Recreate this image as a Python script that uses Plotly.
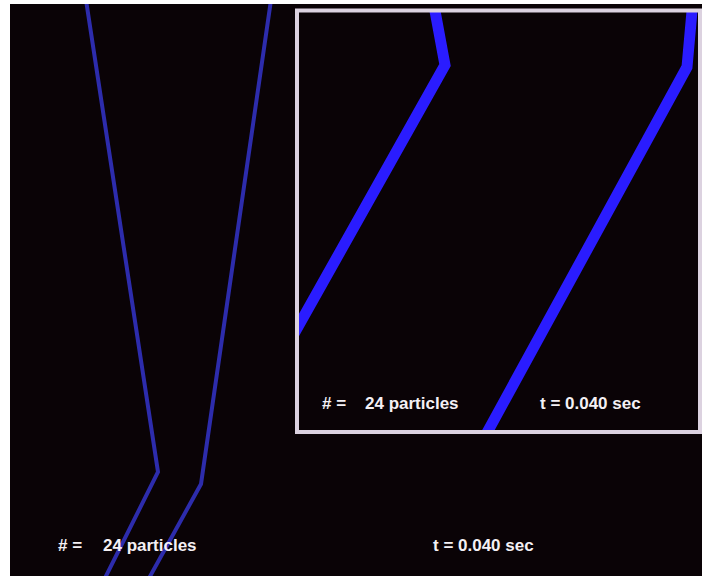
import plotly.graph_objects as go

# ---- data (positions in frame pixel units: x across, y down) ----
particle_count = 24
time_sec = 0.040

# main view: two thin trajectories
main_left_x = [86, 158, 104]
main_left_y = [0, 472, 580]
main_right_x = [271, 201, 148]
main_right_y = [0, 484, 580]

# inset (zoomed) view: two thick trajectories
inset_left_x = [433, 445, 290]
inset_left_y = [0, 65, 341]
inset_right_x = [693, 687, 483]
inset_right_y = [0, 67, 440]

# text labels
count_prefix = "# ="
count_label = f"{particle_count} particles"
time_label = f"t = {time_sec:.3f} sec"

# ---- figure ----
W, H = 702, 577
L, T, R, B = 10, 4, 0, 1
pw, ph = W - L - R, H - T - B

def px_to_dom_x(px):
    return (px - L) / pw

def px_to_dom_y(py):
    return 1 - (py - T) / ph

box_x0, box_x1, box_y0, box_y1 = 297, 700, 10.5, 432

fig = go.Figure()
main_color = "#2d2cac"
inset_color = "#2a1cff"

fig.add_trace(go.Scatter(x=main_left_x, y=main_left_y, mode="lines",
                         line=dict(color=main_color, width=4), xaxis="x", yaxis="y"))
fig.add_trace(go.Scatter(x=main_right_x, y=main_right_y, mode="lines",
                         line=dict(color=main_color, width=4), xaxis="x", yaxis="y"))
fig.add_trace(go.Scatter(x=inset_left_x, y=inset_left_y, mode="lines",
                         line=dict(color=inset_color, width=11), xaxis="x2", yaxis="y2"))
fig.add_trace(go.Scatter(x=inset_right_x, y=inset_right_y, mode="lines",
                         line=dict(color=inset_color, width=11), xaxis="x2", yaxis="y2"))

font = dict(family="Arial, Liberation Sans, sans-serif", size=17, color="#f4f0f4")
ann = []
def add_text(x, y, text, ref):
    ann.append(dict(x=x, y=y, xref=ref[0], yref=ref[1], text=f"<b>{text}</b>",
                    showarrow=False, xanchor="left", yanchor="middle", font=font))

add_text(56, 545, count_prefix, ("x", "y"))
add_text(101, 545, count_label, ("x", "y"))
add_text(431, 545, time_label, ("x", "y"))
add_text(320, 403, count_prefix, ("x", "y"))
add_text(363, 403, count_label, ("x", "y"))
add_text(538, 403, time_label, ("x", "y"))

fig.update_layout(
    width=W, height=H,
    margin=dict(l=L, r=R, t=T, b=B, pad=0),
    paper_bgcolor="#ffffff",
    plot_bgcolor="#0a0306",
    showlegend=False,
    xaxis=dict(range=[L, W - R], domain=[0, 1], visible=False, fixedrange=True),
    yaxis=dict(range=[H - B, T], domain=[0, 1], visible=False, fixedrange=True),
    xaxis2=dict(range=[box_x0, box_x1], domain=[px_to_dom_x(box_x0), px_to_dom_x(box_x1)],
                visible=False, anchor="y2", fixedrange=True),
    yaxis2=dict(range=[box_y1, box_y0], domain=[px_to_dom_y(box_y1), px_to_dom_y(box_y0)],
                visible=False, anchor="x2", fixedrange=True),
    shapes=[dict(type="rect", xref="x", yref="y", x0=box_x0, x1=box_x1, y0=box_y0, y1=box_y1,
                 line=dict(color="#dcd2e0", width=4), layer="above")],
    annotations=ann,
)

fig.write_html("out.html", config={"displayModeBar": False},
               post_script="document.body.style.margin='0';document.body.style.background='#ffffff';")
